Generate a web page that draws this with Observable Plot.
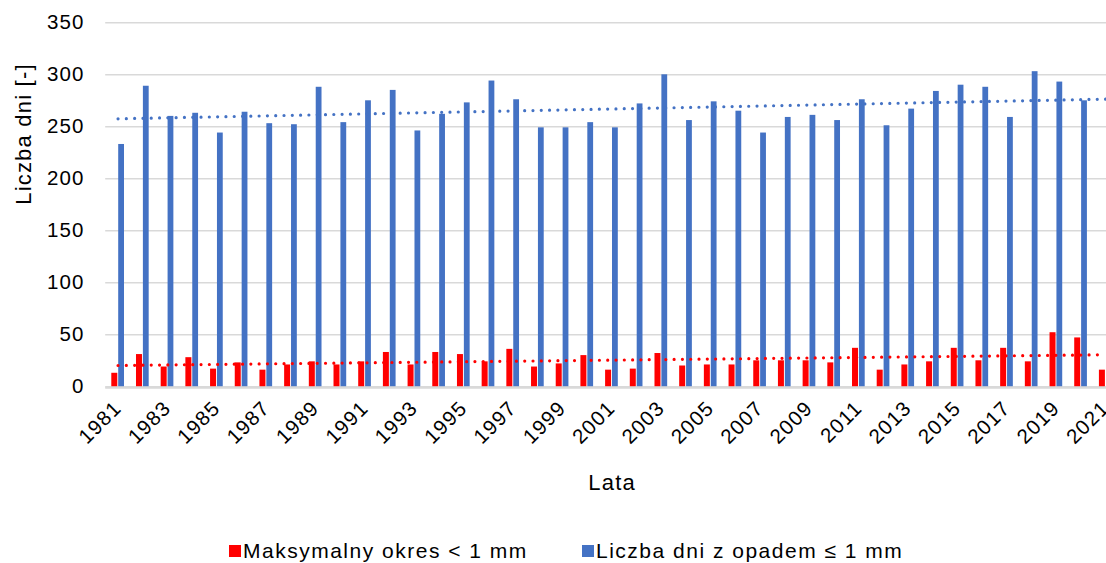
<!DOCTYPE html>
<html>
<head>
<meta charset="utf-8">
<script src="https://cdn.jsdelivr.net/npm/d3@7"></script>
<script src="https://cdn.jsdelivr.net/npm/@observablehq/plot@0.6"></script>
<style>
  html, body { margin: 0; padding: 0; background: #fff; }
  body { position: relative; width: 1106px; height: 563px; overflow: hidden; font-family: "Liberation Sans", Arial, sans-serif; }
  #chart svg { display: block; }
  .leg { position: absolute; top: 539px; height: 24px; display: flex; align-items: center; font-size: 21px; letter-spacing: 1.5px; color: #000; white-space: nowrap; }
  .sw { width: 12px; height: 12px; margin-right: 2px; }
</style>
</head>
<body>
<div id="chart"></div>
<div class="leg" style="left:229px"><span class="sw" style="background:#ff0000"></span>Maksymalny okres &lt; 1 mm</div>
<div class="leg" style="left:582px"><span class="sw" style="background:#4472c4"></span>Liczba dni z opadem ≤ 1 mm</div>
<script>
const years = [1981,1982,1983,1984,1985,1986,1987,1988,1989,1990,1991,1992,1993,1994,1995,1996,1997,1998,1999,2000,
               2001,2002,2003,2004,2005,2006,2007,2008,2009,2010,2011,2012,2013,2014,2015,2016,2017,2018,2019,2020,2021];
const maxDryPeriod = [13,31,19,28,17,23,16,21,24,21,24,33,21,33,31,24,36,19,22,30,
                      16,17,32,20,21,21,25,25,25,23,37,16,21,24,37,25,37,24,52,47,16];
const daysLowPrecip = [233,289,260,263,244,264,253,252,288,254,275,285,246,262,273,294,276,249,249,254,
                       249,272,300,256,274,265,244,259,261,256,276,251,267,284,290,288,259,303,293,275,null];
const trendYears = [1981, 2021];
const redTrend = [20.5, 30.8];
const blueTrend = [257.7, 276.6];
const yTicks = [0,50,100,150,200,250,300,350];
const xTickYears = [1981,1983,1985,1987,1989,1991,1993,1995,1997,1999,2001,2003,2005,2007,2009,2011,2013,2015,2017,2019,2021];

const table = years.map((year, i) => ({year, red: maxDryPeriod[i], blue: daysLowPrecip[i]}));
const trendTable = trendYears.map((year, i) => ({year, red: redTrend[i], blue: blueTrend[i]}));

const chart = Plot.plot({
  width: 1106,
  height: 520,
  marginLeft: 105.2,
  marginRight: 0,
  marginTop: 22.3,
  marginBottom: 133.7,
  style: {fontFamily: '"Liberation Sans", Arial, sans-serif', fontSize: "20.5px", color: "#000", background: "#fff", letterSpacing: "1.2px", overflow: "hidden"},
  x: {type: "band", domain: years, range: [105.2, 1117.5], padding: 0, round: false},
  y: {domain: [0, 350]},
  marks: [
    Plot.gridY(yTicks, {stroke: "#d9d9d9", strokeOpacity: 1, strokeWidth: 1.5}),
    Plot.axisY(yTicks, {tickSize: 0, tickPadding: 21, fontSize: 20.5, label: null}),
    Plot.barY(table, {x: "year", y: "red", fill: "#ff0000", insetLeft: 6.1, insetRight: 12.6}),
    Plot.barY(table.filter(d => d.blue != null), {x: "year", y: "blue", fill: "#4472c4", insetLeft: 13, insetRight: 5.9}),
    Plot.ruleY([0], {stroke: "#d9d9d9", strokeWidth: 2, dy: 1}),
    Plot.lineY(trendTable, {x: "year", y: "red", stroke: "#ff0000", strokeWidth: 3.2, strokeDasharray: "0 8.3", strokeLinecap: "round"}),
    Plot.lineY(trendTable, {x: "year", y: "blue", stroke: "#4472c4", strokeWidth: 3.2, strokeDasharray: "0 8.3", strokeLinecap: "round"}),
    Plot.axisX(xTickYears, {tickSize: 0, tickRotate: -45, tickPadding: 10, dx: 0, dy: 8, fontSize: 20.5, label: null, tickFormat: d => String(d)}),
    Plot.text(["Lata"], {frameAnchor: "bottom", dx: 6, dy: 87.7, lineAnchor: "top", fontSize: 22}),
    Plot.text(["Liczba dni [-]"], {frameAnchor: "left", rotate: -90, dx: -81.7, fontSize: 22})
  ]
});
document.getElementById("chart").appendChild(chart);
</script>
</body>
</html>
